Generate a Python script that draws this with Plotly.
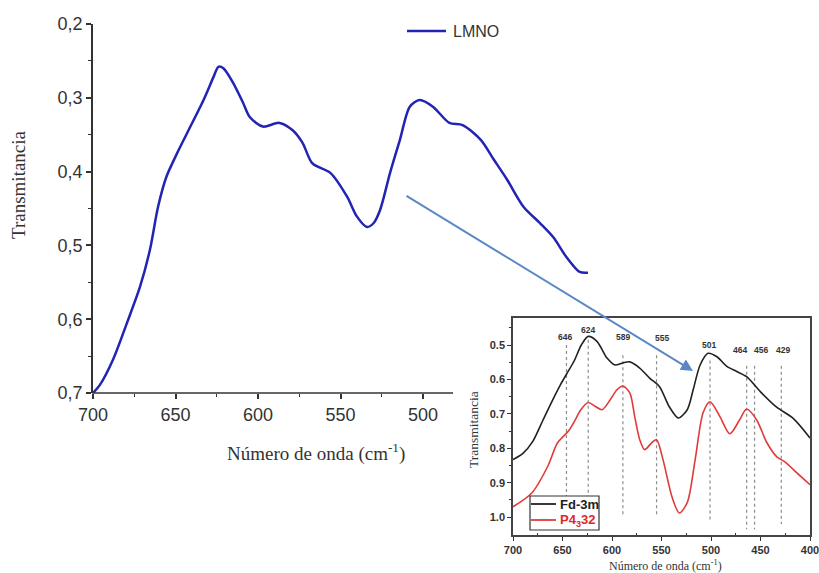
import plotly.graph_objects as go

# ---------------- data ----------------
lmno_x = [700, 695.8, 687.9, 679.4, 671.5, 665.5, 660.6, 655.5, 649, 643, 633, 627, 624, 621,
          615, 609, 605, 597, 587, 579, 573, 567, 556, 546, 540, 534, 530, 526, 520, 514,
          508, 502, 494, 484, 476, 465, 457, 449, 439, 429, 421, 413, 405, 400]
lmno_y = [0.700, 0.689, 0.655, 0.605, 0.556, 0.506, 0.448, 0.407, 0.375, 0.348, 0.303, 0.272,
          0.258, 0.260, 0.280, 0.307, 0.326, 0.339, 0.334, 0.344, 0.361, 0.389, 0.402, 0.434,
          0.461, 0.475, 0.470, 0.452, 0.402, 0.357, 0.312, 0.303, 0.312, 0.334, 0.337, 0.357,
          0.384, 0.411, 0.448, 0.470, 0.489, 0.516, 0.536, 0.537]

fd3m_x = [700, 690, 680, 670, 660, 652, 646, 638, 631, 624, 615, 605, 597, 589, 582, 572, 562,
          552, 542, 533, 524, 518, 511, 503, 494, 484, 474, 464, 450, 434, 417, 400]
fd3m_y = [0.833, 0.815, 0.780, 0.720, 0.660, 0.615, 0.585, 0.545, 0.500, 0.475, 0.490, 0.538,
          0.558, 0.552, 0.549, 0.567, 0.596, 0.621, 0.680, 0.712, 0.688, 0.630, 0.558, 0.524,
          0.534, 0.562, 0.577, 0.592, 0.636, 0.680, 0.713, 0.770]

p4332_x = [700, 681, 665, 655, 644, 637, 632, 624, 617, 610, 602, 595, 589, 582, 577, 572, 567,
           560, 555, 548.5, 539.5, 532, 524, 516, 508, 501, 491, 481, 471, 464, 454, 443.5,
           433.5, 425, 413.5, 400]
p4332_y = [0.970, 0.930, 0.853, 0.784, 0.750, 0.717, 0.690, 0.667, 0.678, 0.688, 0.660, 0.630,
           0.619, 0.639, 0.709, 0.775, 0.804, 0.784, 0.775, 0.833, 0.940, 0.988, 0.958, 0.833,
           0.697, 0.665, 0.708, 0.758, 0.717, 0.686, 0.717, 0.784, 0.825, 0.840, 0.871, 0.906]

peak_pos = [646, 624, 589, 555, 501, 464, 456, 429]
peak_label_x = [647, 624, 589, 549, 502, 471, 449, 427]
peak_label_y = [0.477, 0.457, 0.477, 0.480, 0.500, 0.515, 0.515, 0.515]
peak_line_top = [0.500, 0.485, 0.530, 0.530, 0.545, 0.560, 0.560, 0.560]
peak_line_bottom = [0.940, 0.940, 1.000, 1.000, 1.015, 1.035, 1.035, 1.020]

main_y_ticks = [0.2, 0.3, 0.4, 0.5, 0.6, 0.7]
main_y_ticktext = ["0,2", "0,3", "0,4", "0,5", "0,6", "0,7"]
main_y_minor = [0.25, 0.35, 0.45, 0.55, 0.65]
main_x_ticks = [700, 650, 600, 550, 500]
main_x_minor = [675, 625, 575, 525]
inset_x_ticks = [700, 650, 600, 550, 500, 450, 400]
inset_x_minor = [675, 625, 575, 525, 475, 425]
inset_y_ticks = [0.5, 0.6, 0.7, 0.8, 0.9, 1.0]
inset_y_ticktext = ["0.5", "0.6", "0.7", "0.8", "0.9", "1.0"]
inset_y_minor = [0.45, 0.55, 0.65, 0.75, 0.85, 0.95]

series_names = ["LMNO", "Fd-3m", "P4<sub>3</sub>32"]
series_colors = ["#2323b4", "#222222", "#e03a3a"]

# ---------------- layout helpers ----------------
W, H = 819, 573
def fx(p):
    return p / W
def fy(p):
    return 1 - p / H

SANS = "Liberation Sans, Arial, sans-serif"
SERIF = "Liberation Serif, Times New Roman, serif"
AX = "#333333"

fig = go.Figure()

fig.add_trace(go.Scatter(x=lmno_x, y=lmno_y, mode="lines", name=series_names[0], showlegend=False,
                         line=dict(color=series_colors[0], width=2.5, shape="spline", smoothing=0.8),
                         xaxis="x", yaxis="y"))

for p, t, b in zip(peak_pos, peak_line_top, peak_line_bottom):
    fig.add_trace(go.Scatter(x=[p, p], y=[t, b], mode="lines", showlegend=False,
                             line=dict(color="#8c8c8c", width=1.2, dash="dot"),
                             hoverinfo="skip", xaxis="x2", yaxis="y2"))

fig.add_trace(go.Scatter(x=fd3m_x, y=fd3m_y, mode="lines", name=series_names[1], showlegend=False,
                         line=dict(color=series_colors[1], width=1.6, shape="spline", smoothing=0.8),
                         xaxis="x2", yaxis="y2"))
fig.add_trace(go.Scatter(x=p4332_x, y=p4332_y, mode="lines", name=series_names[2], showlegend=False,
                         line=dict(color=series_colors[2], width=1.6, shape="spline", smoothing=0.8),
                         xaxis="x2", yaxis="y2"))

annotations = []
for lx, ly, p in zip(peak_label_x, peak_label_y, peak_pos):
    annotations.append(dict(x=lx, y=ly, xref="x2", yref="y2", text=str(p), showarrow=False,
                            xanchor="center", yanchor="middle",
                            font=dict(family=SANS, size=8.5, color=AX, weight="bold")))

def paper_text(px, py, text, size, family, color=AX, angle=0, xanchor="center", weight="normal"):
    return dict(x=fx(px), y=fy(py), xref="paper", yref="paper", text=text, textangle=angle,
                xanchor=xanchor, yanchor="middle", showarrow=False,
                font=dict(family=family, size=size, color=color, weight=weight))

annotations += [
    dict(x=fx(693), y=fy(371), ax=405 - 693, ay=195 - 371, xref="paper", yref="paper",
         axref="pixel", ayref="pixel", text="", showarrow=True, arrowhead=2, arrowsize=1.2,
         arrowwidth=2, arrowcolor="#5b88c4"),
    paper_text(18, 185, "Transmitancia", 19, SERIF, angle=-90),
    paper_text(316, 452, "Número de onda (cm<sup>-1</sup>)", 19, SERIF),
    paper_text(473, 429, "Transmitancia", 13.5, SERIF, angle=-90),
    paper_text(665, 565, "Número de onda (cm<sup>-1</sup>)", 12, SERIF),
    paper_text(451, 31, series_names[0], 16, SANS, xanchor="left"),
    paper_text(558, 504, series_names[1], 13, SANS, color="#222222", xanchor="left", weight="bold"),
    paper_text(558, 520, series_names[2], 13, SANS, color="#e02828", xanchor="left", weight="bold"),
]

shapes = [
    # main x-axis line (visible part, rest hidden behind the inset)
    dict(type="line", xref="paper", yref="paper", x0=fx(92.3), x1=fx(453), y0=fy(393), y1=fy(393),
         line=dict(color=AX, width=1.6)),
    # main legend line
    dict(type="line", xref="paper", yref="paper", x0=fx(407), x1=fx(446), y0=fy(31), y1=fy(31),
         line=dict(color=series_colors[0], width=2.5)),
    # inset legend box
    dict(type="rect", xref="paper", yref="paper", x0=fx(530), x1=fx(599), y0=fy(530), y1=fy(496),
         line=dict(color="#333333", width=1.2), fillcolor="white", layer="above"),
    dict(type="line", xref="paper", yref="paper", x0=fx(531), x1=fx(556), y0=fy(504), y1=fy(504),
         line=dict(color=series_colors[1], width=1.8), layer="above"),
    dict(type="line", xref="paper", yref="paper", x0=fx(531), x1=fx(556), y0=fy(520), y1=fy(520),
         line=dict(color=series_colors[2], width=1.8), layer="above"),
]

fig.update_layout(
    width=W, height=H, margin=dict(l=0, r=0, t=0, b=0),
    paper_bgcolor="white", plot_bgcolor="white", showlegend=False,
    annotations=annotations, shapes=shapes,
    xaxis=dict(domain=[fx(93), fx(588)], range=[700, 400], anchor="y", showline=False,
               automargin=False,
               showgrid=False, zeroline=False, tickmode="array", tickvals=main_x_ticks,
               ticks="outside", ticklen=5, tickwidth=1.5, tickcolor=AX,
               tickfont=dict(family=SANS, size=18, color=AX),
               minor=dict(tickmode="array", tickvals=main_x_minor, ticks="outside", ticklen=3,
                          tickwidth=1.2, tickcolor=AX)),
    yaxis=dict(domain=[fy(393), fy(24)], range=[0.7, 0.2], anchor="x", showline=True,
               automargin=False,
               linecolor=AX, linewidth=1.6, showgrid=False, zeroline=False,
               tickmode="array", tickvals=main_y_ticks, ticktext=main_y_ticktext,
               ticks="outside", ticklen=5, tickwidth=1.5, tickcolor=AX,
               tickfont=dict(family=SANS, size=18, color=AX),
               minor=dict(tickmode="array", tickvals=main_y_minor, ticks="outside", ticklen=3,
                          tickwidth=1.2, tickcolor=AX)),
    xaxis2=dict(domain=[fx(513), fx(810)], range=[700, 400], anchor="y2", showline=True,
                automargin=False, ticklabeloverflow="allow",
                mirror=True, linecolor="#444444", linewidth=1.5, showgrid=False, zeroline=False,
                tickmode="array", tickvals=inset_x_ticks, ticks="outside", ticklen=4,
                tickwidth=1.2, tickcolor=AX,
                tickfont=dict(family=SANS, size=11, color=AX, weight="bold"),
                minor=dict(tickmode="array", tickvals=inset_x_minor, ticks="inside", ticklen=2,
                           tickwidth=1, tickcolor=AX)),
    yaxis2=dict(domain=[fy(535), fy(318)], range=[1.052, 0.4215], anchor="x2", showline=True,
                automargin=False,
                mirror=True, linecolor="#444444", linewidth=1.5, showgrid=False, zeroline=False,
                tickmode="array", tickvals=inset_y_ticks, ticktext=inset_y_ticktext,
                ticks="outside", ticklen=4, tickwidth=1.2, tickcolor=AX,
                tickfont=dict(family=SANS, size=11, color=AX, weight="bold"),
                minor=dict(tickmode="array", tickvals=inset_y_minor, ticks="outside", ticklen=2,
                           tickwidth=1, tickcolor=AX)),
)

fig.write_html("out.html")
